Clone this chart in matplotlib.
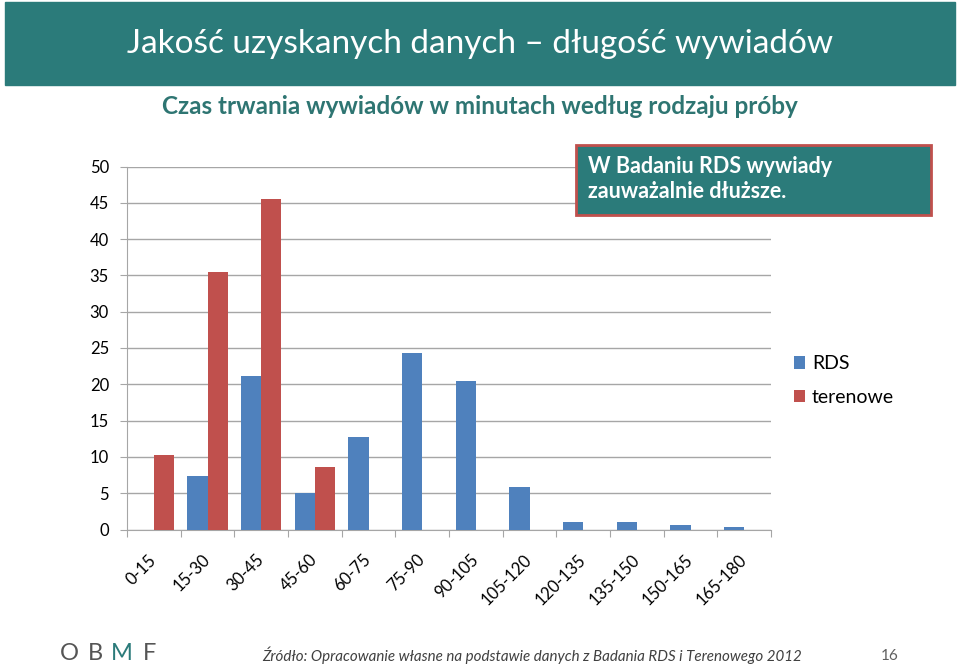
import numpy as np
import matplotlib
matplotlib.use('Agg')
import matplotlib.pyplot as plt
from matplotlib.patches import Rectangle

plt.rcParams['font.family'] = ['Lato', 'DejaVu Sans']

categories = ['0-15', '15-30', '30-45', '45-60', '60-75', '75-90', '90-105',
              '105-120', '120-135', '135-150', '150-165', '165-180']
rds = [0, 7.4, 21.1, 5.0, 12.7, 24.3, 20.4, 5.9, 1.0, 1.0, 0.6, 0.4]
terenowe = [10.2, 35.4, 45.5, 8.6, 0, 0, 0, 0, 0, 0, 0, 0]

teal = '#2B7B7A'
blue = '#4F81BD'
red = '#C0504D'
grid = '#A6A6A6'

fig = plt.figure(figsize=(9.6, 6.66), dpi=100)

# header bar
fig.patches.append(Rectangle((5 / 960, 1 - 85 / 666), 950 / 960, 83 / 666,
                             transform=fig.transFigure, color=teal, zorder=0))
fig.text(0.5, 1 - 44 / 666, 'Jakość uzyskanych danych – długość wywiadów',
         ha='center', va='center', color='white', fontsize=24)
fig.text(0.5, 1 - 106 / 666, 'Czas trwania wywiadów w minutach według rodzaju próby',
         ha='center', va='center', color='#2E7572', fontsize=17.5, fontweight='bold')

ax = fig.add_axes([127 / 960, 1 - 529.5 / 666, 644 / 960, 363 / 666])
x = np.arange(len(categories))
w = 0.374
ax.bar(x - w / 2, rds, w, color=blue, label='RDS', zorder=3)
ax.bar(x + w / 2, terenowe, w, color=red, label='terenowe', zorder=3)

ax.set_xlim(-0.5, len(categories) - 0.5)
ax.set_ylim(0, 50)
ax.set_yticks(range(0, 51, 5))
ax.yaxis.grid(True, color=grid, linewidth=1, zorder=0)
ax.set_axisbelow(True)
for s in ['top', 'right']:
    ax.spines[s].set_visible(False)
for s in ['left', 'bottom']:
    ax.spines[s].set_color(grid)
ax.tick_params(axis='y', length=5, color=grid, labelsize=12, pad=8)
ax.set_xticks(np.arange(-0.5, len(categories), 1))
ax.set_xticklabels([])
ax.tick_params(axis='x', length=5, color=grid)
ax.set_xticks(x, minor=True)
ax.set_xticklabels(categories, minor=True, rotation=45, ha='right',
                   va='center', rotation_mode='anchor', fontsize=12)
ax.tick_params(axis='x', which='minor', length=0, pad=20)

leg = ax.legend(loc='center left', bbox_to_anchor=(1.008, 0.41), frameon=False,
                fontsize=14, handlelength=0.6, handleheight=0.6, handletextpad=0.35,
                labelspacing=0.85)

# callout box
fig.patches.append(Rectangle((576 / 960, 1 - 215 / 666), 355 / 960, 70 / 666,
                             transform=fig.transFigure, facecolor=teal,
                             edgecolor=red, linewidth=2, zorder=5))
fig.text(588 / 960, 1 - 179 / 666, 'W Badaniu RDS wywiady\nzauważalnie dłuższe.',
         ha='left', va='center', color='white', fontsize=15.5, fontweight='bold',
         linespacing=1.2, zorder=6)

# footer logo
for letter, lx, col in [('O', 60, '#555555'), ('B', 88, '#555555'),
                        ('M', 111, teal), ('F', 143, '#555555')]:
    fig.text(lx / 960, 1 - 654 / 666, letter, ha='left', va='center', color=col,
             fontsize=17)
fig.text(262 / 960, 1 - 655 / 666,
         'Źródło: Opracowanie własne na podstawie danych z Badania RDS i Terenowego 2012',
         ha='left', va='center', color='#404040', fontsize=10.9, style='italic')
fig.text(890 / 960, 1 - 656 / 666, '16', ha='center', va='center', color='#606060',
         fontsize=11)

fig.savefig('out.png', dpi=100)
